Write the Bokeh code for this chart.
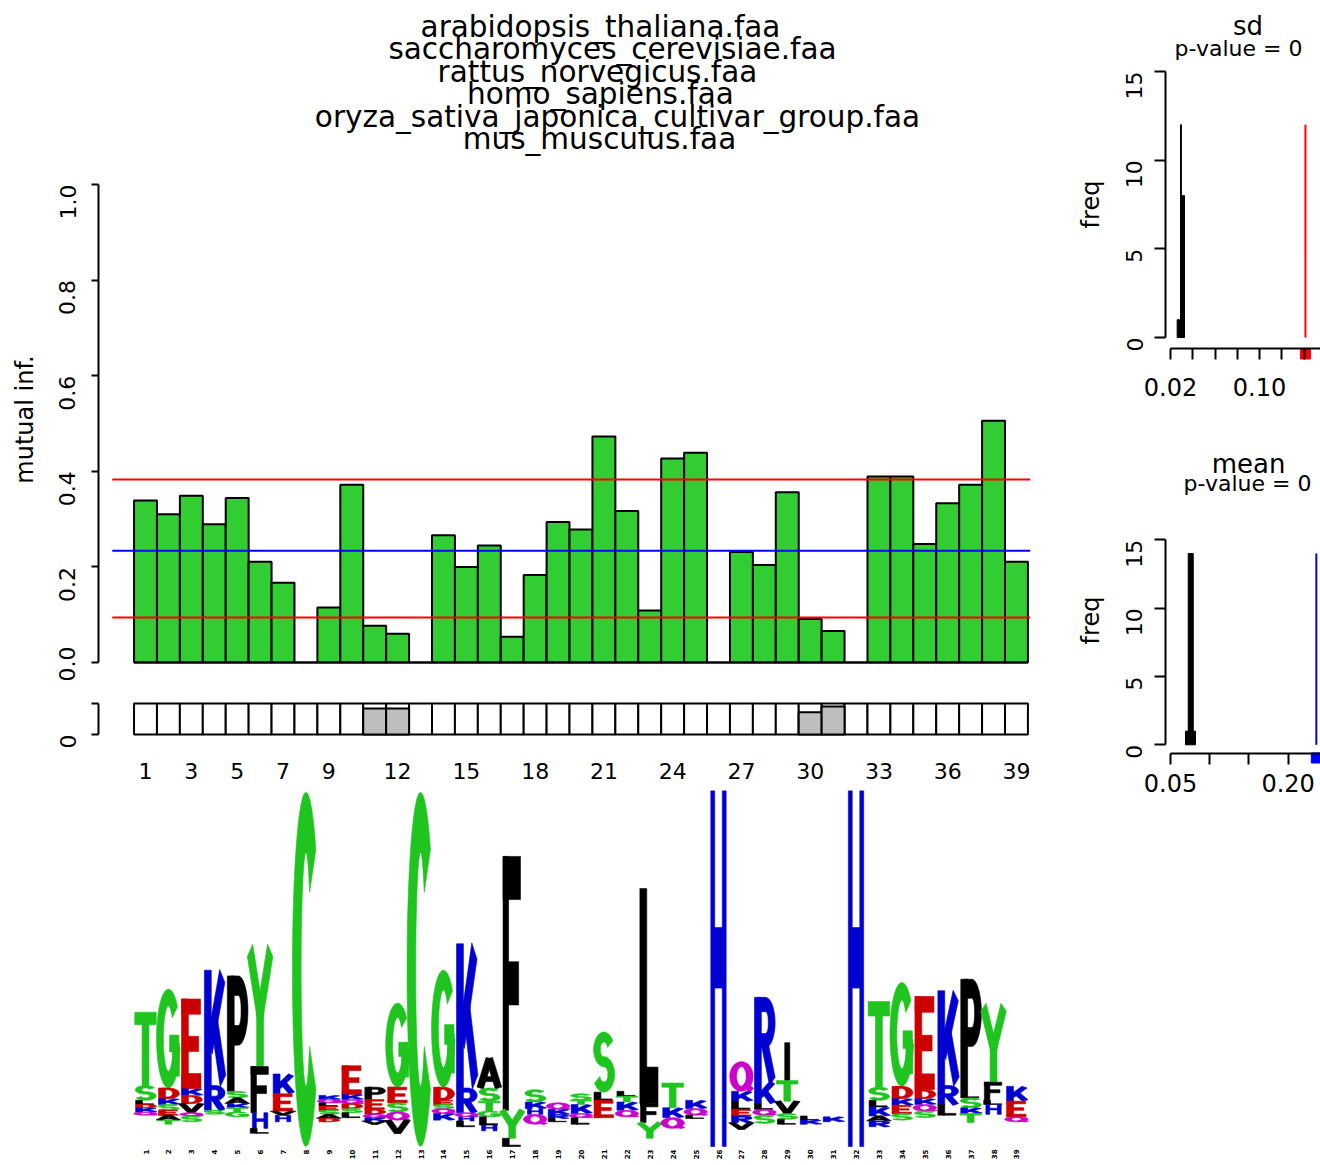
import math
import json
import numpy as np
from bokeh.plotting import figure
from bokeh.models import (Range1d, LinearAxis, FixedTicker, CustomJSTickFormatter,
                          PrintfTickFormatter, ColumnDataSource)
from bokeh.layouts import row, column
from bokeh.core.properties import value
from bokeh.embed import file_html
from bokeh.resources import INLINE

FONT = "DejaVu Sans"

# ------------------------------------------------------------------ data
TITLE_LINES = ["arabidopsis_thaliana.faa", "saccharomyces_cerevisiae.faa",
               "rattus_norvegicus.faa", "homo_sapiens.faa",
               "oryza_sativa_japonica_cultivar_group.faa", "mus_musculus.faa"]

POSITIONS = list(range(1, 40))
MUTUAL_INF = [0.339, 0.310, 0.349, 0.289, 0.344, 0.211, 0.167, 0.0, 0.115, 0.372,
              0.077, 0.060, 0.0, 0.266, 0.200, 0.245, 0.054, 0.183, 0.294, 0.278,
              0.473, 0.317, 0.109, 0.427, 0.439, 0.0, 0.231, 0.204, 0.356, 0.091,
              0.066, 0.0, 0.389, 0.389, 0.248, 0.333, 0.372, 0.506, 0.211]
MI_REF_LINES = [0.383, 0.234, 0.094]          # mean + sd, mean, mean - sd
MI_REF_COLORS = ["#FF0000", "#0000FF", "#FF0000"]
MI_TICKS = [0.0, 0.2, 0.4, 0.6, 0.8, 1.0]
POSITION_TICKS = [1, 3, 5, 7, 9, 12, 15, 18, 21, 24, 27, 30, 33, 36, 39]

GAP_FRACTION = [0, 0, 0, 0, 0, 0, 0, 0, 0, 0,
                0.84, 0.84, 0, 0, 0, 0, 0, 0, 0, 0,
                0, 0, 0, 0, 0, 0, 0, 0, 0, 0.72,
                0.90, 0, 0, 0, 0, 0, 0, 0, 0]
GAP_TICKS = [0, 1]

SD_BIN_EDGES = [0.0260, 0.0290, 0.0298, 0.0326]
SD_COUNTS = [1, 12, 8]
SD_OBSERVED = 0.1413
SD_TICKS = [0.02, 0.04, 0.06, 0.08, 0.10, 0.12, 0.14, 0.16]
SD_LABELLED = [0.02, 0.10]
MEAN_BIN_EDGES = [0.0691, 0.0726, 0.0790, 0.0819]
MEAN_COUNTS = [1, 14, 1]
MEAN_OBSERVED = 0.236
MEAN_TICKS = [0.05, 0.10, 0.15, 0.20, 0.25]
MEAN_LABELLED = [0.05, 0.20]
FREQ_TICKS = [0, 5, 10, 15]
P_VALUE_SD = 0
P_VALUE_MEAN = 0

# sequence logo: letters of each column listed from top to bottom with their heights (bits);
# LOGO_FLOOR is the part of the stack made of letters too small to be seen.
LOGO_LETTERS = ["TSLDKQ", "GDKSEAT", "EKDVQS", "KRS", "PSAKTG", "YFHL", "KEVH", "C",
                "KQLESAD", "EKQDSL", "PEDQKV", "GESQV", "C", "GDESQK", "KRQHL", "ASTGLH",
                "FYL", "SKHQ", "QKRL", "STKQL", "SLE", "LTKQ", "LFY", "TKQ", "KQL", "H",
                "QKLERV", "RKLQS", "ITVSL", "LK", "K", "H", "TSLKAR", "GDKES", "EDKQS",
                "KRL", "PLSKT", "YFLH", "KEQ"]
LOGO_BITS = [[0.89, 0.18, 0.05, 0.04, 0.05, 0.04],
             [1.20, 0.13, 0.07, 0.07, 0.06, 0.06, 0.05],
             [1.09, 0.08, 0.10, 0.11, 0.04, 0.07],
             [1.40, 0.30, 0.05],
             [1.40, 0.08, 0.07, 0.05, 0.05, 0.06],
             [1.41, 0.56, 0.19, 0.06],
             [0.24, 0.21, 0.05, 0.08],
             [4.30],
             [0.05, 0.04, 0.04, 0.05, 0.05, 0.05, 0.04],
             [0.35, 0.06, 0.05, 0.06, 0.05, 0.06],
             [0.15, 0.12, 0.06, 0.04, 0.04, 0.04],
             [1.02, 0.19, 0.11, 0.10, 0.16],
             [4.30],
             [1.42, 0.16, 0.05, 0.05, 0.06, 0.08],
             [1.75, 0.30, 0.05, 0.05, 0.07],
             [0.36, 0.16, 0.12, 0.07, 0.10, 0.07],
             [3.08, 0.34, 0.10],
             [0.15, 0.08, 0.07, 0.12],
             [0.08, 0.06, 0.05, 0.04],
             [0.08, 0.05, 0.11, 0.05, 0.08],
             [0.73, 0.10, 0.21],
             [0.06, 0.07, 0.10, 0.08],
             [2.61, 0.23, 0.19],
             [0.30, 0.12, 0.13],
             [0.10, 0.08, 0.04],
             [4.32],
             [0.36, 0.12, 0.10, 0.08, 0.08, 0.08],
             [1.02, 0.27, 0.07, 0.07, 0.10],
             [0.46, 0.25, 0.15, 0.07, 0.06],
             [0.05, 0.05],
             [0.06],
             [4.32],
             [1.04, 0.16, 0.08, 0.11, 0.06, 0.07],
             [1.26, 0.15, 0.08, 0.10, 0.08],
             [1.13, 0.11, 0.07, 0.08, 0.08],
             [1.15, 0.23, 0.13],
             [1.36, 0.08, 0.12, 0.07, 0.11],
             [0.91, 0.22, 0.05, 0.12],
             [0.18, 0.19, 0.06]]
LOGO_FLOOR = [0.38, 0.27, 0.30, 0.39, 0.36, 0.16, 0.30, 0.0, 0.30, 0.35,
              0.27, 0.16, 0.0, 0.32, 0.24, 0.19, 0.0, 0.27, 0.30, 0.27,
              0.35, 0.36, 0.10, 0.22, 0.34, 0.0, 0.21, 0.28, 0.27, 0.27,
              0.30, 0.0, 0.24, 0.32, 0.35, 0.38, 0.29, 0.39, 0.30]

# ------------------------------------------------------------------ page geometry (pixels)
ORIGIN_X, ORIGIN_Y = 0, 0
LEFT_W, RIGHT_W = 1065, 255
MAIN_H, STRIP_H, LOGO_H = 681, 109, 375
SD_H, MEAN_H = 430, 735

X_POS1, PX_PER_POS = 145.0, 22.92
Y_MI0, PX_PER_MI = 662.0, 478.0
Y_GAP0, PX_PER_GAP = 734.0, 31.0
Y_LOGO0, PX_PER_BIT = 1146.0, 82.4
X_SD0, SD_X0VAL, PX_PER_SD = 1170.0, 0.02, 1112.5
Y_SD0, PX_PER_FSD = 337.0, 17.733
X_MN0, MN_X0VAL, PX_PER_MN = 1170.0, 0.05, 784.0
Y_MN0, PX_PER_FMN = 744.3, 13.667
MID_SHIFT = 0.35   # distance (in em) between a text's middle anchor and its baseline


def px_x(X):
    return 1 + (X - X_POS1) / PX_PER_POS


def main_y(Y):
    return (Y_MI0 - Y) / PX_PER_MI


def gap_y(Y):
    return (Y_GAP0 - Y) / PX_PER_GAP


def logo_y(Y):
    return (Y_LOGO0 - Y) / PX_PER_BIT


def sd_x(X):
    return SD_X0VAL + (X - X_SD0) / PX_PER_SD


def sd_y(Y):
    return (Y_SD0 - Y) / PX_PER_FSD


def mn_x(X):
    return MN_X0VAL + (X - X_MN0) / PX_PER_MN


def mn_y(Y):
    return (Y_MN0 - Y) / PX_PER_FMN


X_LEFT0, X_LEFT1 = ORIGIN_X, ORIGIN_X + LEFT_W
X_RIGHT0, X_RIGHT1 = X_LEFT1, X_LEFT1 + RIGHT_W
Y_MAIN0 = ORIGIN_Y
Y_STRIP0 = Y_MAIN0 + MAIN_H
Y_LOGO_TOP = Y_STRIP0 + STRIP_H
Y_END = Y_LOGO_TOP + LOGO_H
Y_MEAN_TOP = ORIGIN_Y + SD_H


def make_fig(w, h, xr, yr):
    p = figure(width=w, height=h, x_range=xr, y_range=yr, output_backend="svg",
               toolbar_location=None, x_axis_location=None, y_axis_location=None,
               min_border=0, outline_line_color=None,
               background_fill_color="white", border_fill_color="white")
    p.xgrid.visible = False
    p.ygrid.visible = False
    return p


def add_axis(p, side, loc, ticks, bounds, formatter=None, tick_out=7, font_size="22px",
             orientation="horizontal", standoff=6, line=True, tick_width=2, bold=False):
    kw = dict(fixed_location=loc, ticker=FixedTicker(ticks=ticks, minor_ticks=[]),
              bounds=bounds, major_tick_out=tick_out, major_tick_in=0,
              minor_tick_out=0, minor_tick_in=0,
              axis_line_width=2, major_tick_line_width=tick_width,
              major_label_text_font=FONT, major_label_text_font_size=font_size,
              major_label_text_color="black",
              major_label_orientation=orientation, major_label_standoff=standoff)
    if formatter is not None:
        kw["formatter"] = formatter
    if bold:
        kw["major_label_text_font_style"] = "bold"
    ax = LinearAxis(**kw)
    if not line:
        ax.axis_line_color = None
        ax.major_tick_line_color = None
    p.add_layout(ax, side)
    return ax


def keep_formatter(keep, digits):
    code = ("const keep = %s;\nfor (const k of keep) { if (Math.abs(tick - k) < 1e-6) "
            "return tick.toFixed(%d); }\nreturn '';" % (json.dumps(keep), digits))
    return CustomJSTickFormatter(code=code)


def put_text(p, fx, fy, X, baseline_Y, txt, size, angle=0.0, middle=False):
    """Write a text whose baseline (or middle, if middle=True) sits at the given pixel."""
    Y = baseline_Y if middle else baseline_Y - MID_SHIFT * size
    p.text(x=[fx(X)], y=[fy(Y)], text=[txt], angle=angle, text_font=value(FONT),
           text_font_size=value("%gpx" % size), text_align="center",
           text_baseline="middle", text_color="black")


# ------------------------------------------------------------------ main bar panel
p_main = make_fig(LEFT_W, MAIN_H, Range1d(px_x(X_LEFT0), px_x(X_LEFT1)),
                  Range1d(main_y(Y_STRIP0), main_y(Y_MAIN0)))
p_main.vbar(x=POSITIONS, width=1.0, bottom=0, top=MUTUAL_INF, fill_color="#32CD32",
            line_color="black", line_width=2)
p_main.segment(x0=[POSITIONS[0] - 0.5], x1=[POSITIONS[-1] + 0.5], y0=[0], y1=[0],
               line_color="black", line_width=2)
p_main.segment(x0=[POSITIONS[0] - 1.45] * 3, x1=[POSITIONS[-1] + 0.6] * 3,
               y0=MI_REF_LINES, y1=MI_REF_LINES, line_color=MI_REF_COLORS, line_width=2)
add_axis(p_main, "left", px_x(98), MI_TICKS, (0, 1),
         formatter=PrintfTickFormatter(format="%.1f"), tick_out=7,
         orientation=math.pi / 2, standoff=24)
title_base = [37, 59, 81.5, 104, 126.5, 149]
title_center = [600, 612, 597, 600, 617, 599]
for line, cx, b in zip(TITLE_LINES, title_center, title_base):
    put_text(p_main, px_x, main_y, cx, b, line, 29.5)
put_text(p_main, px_x, main_y, 24, 419, "mutual inf.", 24, angle=math.pi / 2, middle=True)

# ------------------------------------------------------------------ gap strip
p_strip = make_fig(LEFT_W, STRIP_H, Range1d(px_x(X_LEFT0), px_x(X_LEFT1)),
                   Range1d(gap_y(Y_LOGO_TOP), gap_y(Y_STRIP0)))
pos = np.array(POSITIONS, float)
p_strip.quad(left=pos - 0.5, right=pos + 0.5, bottom=0, top=1, fill_color="white",
             line_color="black", line_width=2)
gap = np.array(GAP_FRACTION)
has_gap = gap > 0
p_strip.quad(left=pos[has_gap] - 0.5, right=pos[has_gap] + 0.5, bottom=0, top=gap[has_gap],
             fill_color="#BEBEBE", line_color="black", line_width=2)
add_axis(p_strip, "left", px_x(98), GAP_TICKS, (0, 1),
         formatter=CustomJSTickFormatter(code="return tick == 0 ? '0' : '';"),
         tick_out=7, orientation=math.pi / 2, standoff=24)
add_axis(p_strip, "below", gap_y(752), POSITION_TICKS, (1, 39), tick_out=0,
         standoff=10, line=False)

# ------------------------------------------------------------------ sequence logo
TX, TY = 0.15, 0.085
TX_SPECIAL = {"H": 0.085, "I": 0.11, "F": 0.12, "C": 0.19}


def seg(*pts):
    return np.array(pts, float)


def arc(cx, cy, rx, ry, a0, a1, n=36):
    a = np.radians(np.linspace(a0, a1, n))
    return np.column_stack([cx + rx * np.cos(a), cy + ry * np.sin(a)])


def chain(*parts):
    pts = np.vstack(parts)
    d = np.hypot(*(pts[1:] - pts[:-1]).T)
    keep = np.concatenate([[True], d > 1e-9])
    return pts[keep]


def bowl(x0, xa, cy, rx, ry):
    return chain(seg((x0, cy + ry), (xa, cy + ry)), arc(xa, cy, rx, ry, 90, -90),
                 seg((xa, cy - ry), (x0, cy - ry)))


def thick(pts, tx, ty):
    t = np.empty_like(pts)
    if len(pts) > 2:
        t[1:-1] = pts[2:] - pts[:-2]
    t[0] = pts[1] - pts[0]
    t[-1] = pts[-1] - pts[-2]
    t /= np.hypot(t[:, 0], t[:, 1])[:, None]
    off = np.column_stack([-t[:, 1] * tx, t[:, 0] * ty])
    return np.vstack([pts + off, (pts - off)[::-1]])


STEM = seg((0.22, 0.0), (0.22, 1.0))
CENTERLINES = {
    "A": [seg((0.1, 0.0), (0.5, 1.0)), seg((0.9, 0.0), (0.5, 1.0)), seg((0.28, 0.3), (0.72, 0.3))],
    "B": [STEM, bowl(0.22, 0.5, 0.715, 0.27, 0.2), bowl(0.22, 0.52, 0.3, 0.3, 0.215)],
    "C": [arc(0.5, 0.5, 0.4, 0.415, 42, 318)],
    "D": [STEM, bowl(0.22, 0.48, 0.5, 0.35, 0.415)],
    "E": [STEM, seg((0.08, 0.915), (0.9, 0.915)), seg((0.3, 0.5), (0.82, 0.5)),
          seg((0.08, 0.085), (0.92, 0.085))],
    "F": [STEM, seg((0.1, 0.915), (0.86, 0.915)), seg((0.3, 0.5), (0.78, 0.5))],
    "G": [arc(0.5, 0.5, 0.37, 0.415, 40, 350), seg((0.55, 0.45), (0.96, 0.45)),
          seg((0.83, 0.12), (0.83, 0.45))],
    "H": [seg((0.25, 0.0), (0.25, 1.0)), seg((0.75, 0.0), (0.75, 1.0)),
          seg((0.3, 0.53), (0.7, 0.53))],
    "I": [seg((0.5, 0.0), (0.5, 1.0))],
    "K": [STEM, seg((0.3, 0.33), (0.85, 0.95)), seg((0.5, 0.56), (0.88, 0.04))],
    "L": [STEM, seg((0.3, 0.085), (0.86, 0.085))],
    "N": [seg((0.18, 0.0), (0.18, 1.0)), seg((0.82, 0.0), (0.82, 1.0)), seg((0.22, 1.0), (0.78, 0.0))],
    "P": [STEM, bowl(0.22, 0.55, 0.7, 0.27, 0.215)],
    "Q": [arc(0.5, 0.5, 0.36, 0.415, 0, 360), seg((0.62, 0.25), (0.95, 0.03))],
    "R": [STEM, bowl(0.22, 0.55, 0.7, 0.27, 0.215), seg((0.5, 0.47), (0.85, 0.0))],
    "S": [chain(arc(0.5, 0.71, 0.3, 0.205, 25, 270), arc(0.5, 0.295, 0.32, 0.21, 90, -155))],
    "T": [seg((0.03, 0.915), (0.97, 0.915)), seg((0.5, 0.0), (0.5, 0.85))],
    "V": [seg((0.08, 1.0), (0.5, 0.0)), seg((0.92, 1.0), (0.5, 0.0))],
    "Y": [seg((0.06, 1.0), (0.5, 0.45)), seg((0.94, 1.0), (0.5, 0.45)), seg((0.5, 0.0), (0.5, 0.5))],
}
GLYPH_POLYS = {k: [thick(c, TX_SPECIAL.get(k, TX), TY) for c in v] for k, v in CENTERLINES.items()}

GREEN, BLUE, RED, PURPLE, BLACK = "#1FC41F", "#0000D0", "#CC0000", "#CC00CC", "#000000"
LETTER_COLOR = {}
for ch in "GSTYC":
    LETTER_COLOR[ch] = GREEN
for ch in "KRH":
    LETTER_COLOR[ch] = BLUE
for ch in "DE":
    LETTER_COLOR[ch] = RED
for ch in "QN":
    LETTER_COLOR[ch] = PURPLE

p_logo = make_fig(LEFT_W, LOGO_H, Range1d(px_x(X_LEFT0), px_x(X_LEFT1)),
                  Range1d(logo_y(Y_END), logo_y(Y_LOGO_TOP)))
lx, ly, lc = [], [], []
for col, letters, bits, floor in zip(POSITIONS, LOGO_LETTERS, LOGO_BITS, LOGO_FLOOR):
    top = floor + sum(bits)
    for letter, h in zip(letters, bits):
        bottom = top - h
        for poly in GLYPH_POLYS[letter]:
            lx.append(list(col - 0.5 + poly[:, 0]))
            ly.append(list(bottom + poly[:, 1] * h))
            lc.append(LETTER_COLOR.get(letter, BLACK))
        top = bottom
logo_src = ColumnDataSource(dict(xs=lx, ys=ly, color=lc))
p_logo.patches(xs="xs", ys="ys", source=logo_src, fill_color="color",
               line_color="color", line_width=0.6)
add_axis(p_logo, "below", 0.0, POSITIONS, (1, 39), tick_out=0, font_size="7px",
         orientation=math.pi / 2, standoff=3, line=False, bold=True)

# ------------------------------------------------------------------ sd histogram
p_sd = make_fig(RIGHT_W, SD_H, Range1d(sd_x(X_RIGHT0), sd_x(X_RIGHT1)),
                Range1d(sd_y(Y_MEAN_TOP), sd_y(ORIGIN_Y)))
p_sd.quad(left=SD_BIN_EDGES[:-1], right=SD_BIN_EDGES[1:], bottom=0, top=SD_COUNTS,
          fill_color="black", line_color="black", line_width=1)
p_sd.segment(x0=[SD_OBSERVED], x1=[SD_OBSERVED], y0=[0], y1=[max(SD_COUNTS)],
             line_color="#FF0000", line_width=2)
p_sd.scatter(x=[SD_OBSERVED], y=[sd_y(353.5)], marker="square", size=10,
             fill_color="#FF0000", line_color="#FF0000")
add_axis(p_sd, "left", sd_x(1165), FREQ_TICKS, (0, 15), tick_out=11,
         orientation=math.pi / 2, standoff=20)
add_axis(p_sd, "below", sd_y(348), SD_TICKS, (SD_TICKS[0], SD_TICKS[-1]),
         formatter=keep_formatter(SD_LABELLED, 2), tick_out=11, font_size="24px", standoff=18)
put_text(p_sd, sd_x, sd_y, 1247.5, 35, "sd", 26)
put_text(p_sd, sd_x, sd_y, 1238, 56, "p-value = %d" % P_VALUE_SD, 22)
put_text(p_sd, sd_x, sd_y, 1090, 204, "freq", 24, angle=math.pi / 2, middle=True)

# ------------------------------------------------------------------ mean histogram
p_mn = make_fig(RIGHT_W, MEAN_H, Range1d(mn_x(X_RIGHT0), mn_x(X_RIGHT1)),
                Range1d(mn_y(Y_END), mn_y(Y_MEAN_TOP)))
p_mn.quad(left=MEAN_BIN_EDGES[:-1], right=MEAN_BIN_EDGES[1:], bottom=0, top=MEAN_COUNTS,
          fill_color="black", line_color="black", line_width=1)
p_mn.segment(x0=[MEAN_OBSERVED], x1=[MEAN_OBSERVED], y0=[0], y1=[max(MEAN_COUNTS)],
             line_color="#0000FF", line_width=2)
p_mn.scatter(x=[MEAN_OBSERVED], y=[mn_y(757.5)], marker="square", size=10,
             fill_color="#0000FF", line_color="#0000FF")
add_axis(p_mn, "left", mn_x(1165), FREQ_TICKS, (0, 15), tick_out=11,
         orientation=math.pi / 2, standoff=20)
add_axis(p_mn, "below", mn_y(752.7), MEAN_TICKS, (MEAN_TICKS[0], MEAN_TICKS[-1]),
         formatter=keep_formatter(MEAN_LABELLED, 2), tick_out=11, font_size="24px", standoff=10)
put_text(p_mn, mn_x, mn_y, 1248, 473, "mean", 26)
put_text(p_mn, mn_x, mn_y, 1247, 491, "p-value = %d" % P_VALUE_MEAN, 22)
put_text(p_mn, mn_x, mn_y, 1090, 620, "freq", 24, angle=math.pi / 2, middle=True)

layout = row(column(p_main, p_strip, p_logo), column(p_sd, p_mn))
open("out.html", "w").write(file_html(layout, INLINE, "mutual information"))
